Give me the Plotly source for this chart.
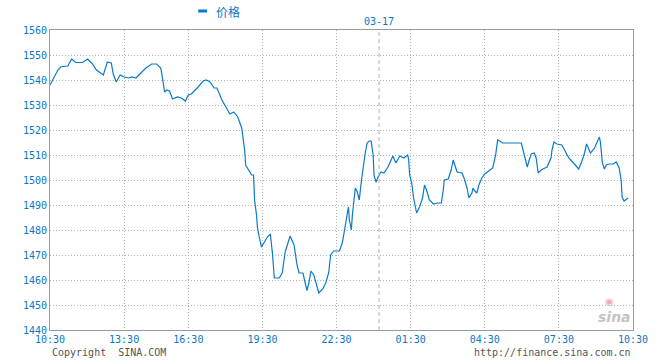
import plotly.graph_objects as go

# ---- data (sample index from session start, price) ----
t_idx = [0, 8, 11, 18, 22, 26, 33, 38, 43, 47, 54, 58, 62, 64, 67, 71, 75, 80, 83, 87,
         97, 103, 108, 112, 113, 116, 118, 121, 124, 129, 133, 137, 140, 143, 149, 155, 158, 162, 166, 169,
         174, 182, 186, 190, 194, 197, 198, 202, 204, 206, 207, 209, 210, 212, 214, 217, 220, 223, 225, 227,
         232, 235, 238, 243, 247, 250, 252, 256, 258, 260, 262, 264, 267, 269, 272, 276, 279, 282, 284, 287,
         293, 296, 298, 300, 302, 303, 305, 306, 307, 309, 311, 313, 315, 317, 319, 321, 323, 325, 327, 328,
         330, 332, 335, 338, 342, 347, 350, 354, 358, 362, 363, 364, 366, 368, 371, 374, 377, 379, 381, 384,
         388, 392, 396, 398, 399, 403, 406, 408, 410, 412, 417, 419, 422, 424, 427, 428, 430, 432, 434, 437,
         440, 444, 448, 451, 453, 455, 458, 477, 480, 483, 485, 487, 490, 492, 494, 497, 501, 503, 507, 508,
         510, 513, 518, 522, 525, 529, 533, 535, 538, 541, 543, 545, 547, 551, 554, 556, 557, 559, 561, 563,
         566, 570, 573, 576, 578, 579, 581, 583, 585]
price = [1538, 1544, 1545.3, 1545.6, 1548.4, 1547, 1547, 1548.4, 1546.4, 1544, 1542, 1547.2, 1546.8, 1542.4, 1539.2, 1542, 1541.2, 1540.8, 1541.2, 1540.8,
         1544.8, 1546.4, 1546.4, 1544.8, 1542.8, 1535.2, 1536, 1535.6, 1532.4, 1533.2, 1532.8, 1531.6, 1534, 1534.4, 1536.8, 1539.6, 1540, 1539.2, 1536.8, 1536.8,
         1532, 1526.4, 1527.2, 1525.2, 1520.8, 1512, 1506, 1503.2, 1502, 1502, 1492, 1486, 1480.8, 1476.8, 1473.2, 1475.2, 1477.2, 1478.4, 1471.2, 1460.8,
         1460.8, 1462.8, 1471.2, 1477.6, 1474, 1466, 1462.8, 1462.8, 1459.2, 1455.8, 1458.8, 1463.6, 1462, 1458.8, 1454.8, 1456.4, 1458.8, 1462.8, 1470, 1471.6,
         1471.6, 1475.2, 1480, 1484.8, 1489.2, 1484, 1480, 1486, 1490, 1496.8, 1495.2, 1492, 1499.2, 1506, 1510.8, 1514.8, 1515.6, 1515.6, 1510, 1501.6,
         1499.2, 1501.2, 1503.2, 1502.8, 1505.2, 1509.6, 1506.8, 1509.6, 1508.8, 1510, 1508, 1502, 1498.8, 1492.8, 1486.8, 1489.2, 1492.8, 1498, 1496, 1492,
         1490.4, 1490.8, 1490.8, 1496, 1500, 1500.4, 1504, 1508, 1506, 1503.2, 1502.8, 1500.8, 1496.8, 1492.8, 1494.8, 1496.8, 1495.6, 1494.8, 1498, 1500.8,
         1502.4, 1503.6, 1504.8, 1510, 1516, 1515.6, 1514.8, 1514.8, 1510, 1505.2, 1508, 1510.4, 1510.8, 1508.8, 1502.8, 1504, 1504.8, 1505.2, 1508.8, 1512,
         1515.2, 1514.4, 1514, 1511.2, 1508.8, 1507.2, 1505.2, 1504.4, 1507.2, 1510.8, 1514.4, 1512.8, 1510.8, 1512.8, 1515.6, 1517.2, 1515.2, 1506.8, 1504.4, 1506,
         1506.4, 1506.4, 1507.2, 1504.8, 1500, 1493.2, 1491.6, 1492.4, 1492.8]

tick_idx = [0, 75, 140, 215, 290, 365, 440, 515, 590]
tick_text = ["10:30", "13:30", "16:30", "19:30", "22:30", "01:30", "04:30", "07:30", "10:30"]
day_break_idx = 333
day_label = "03-17"
series_name = "价格"
y_ticks = list(range(1440, 1561, 10))

BLUE = "#0a7acb"
TXT = "#0a78c8"
GRID = "#b4b4b4"
AXIS = "#9a9a9a"
MONO = "DejaVu Sans Mono"

fig = go.Figure()
fig.add_trace(go.Scatter(x=t_idx, y=price, mode="lines", name=series_name,
                         line=dict(color=BLUE, width=1.2), showlegend=False,
                         hoverinfo="skip"))

fig.update_layout(
    width=660, height=360,
    margin=dict(l=50, r=20, t=30, b=30),
    paper_bgcolor="white", plot_bgcolor="white",
    font=dict(family=MONO, size=10, color=TXT),
    xaxis=dict(range=[0, 590], tickvals=tick_idx, ticktext=tick_text,
               showgrid=True, gridcolor=GRID, griddash="1px,2px", gridwidth=1,
               showline=True, mirror=True, linecolor=AXIS, linewidth=1,
               ticks="", zeroline=False, tickfont=dict(family=MONO, size=10, color=TXT)),
    yaxis=dict(range=[1440, 1560], tickvals=y_ticks,
               showgrid=True, gridcolor=GRID, griddash="1px,2px", gridwidth=1,
               showline=True, mirror=True, linecolor=AXIS, linewidth=1,
               ticks="", zeroline=False, tickfont=dict(family=MONO, size=10, color=TXT)),
)

# day divider
fig.add_shape(type="line", xref="x", yref="paper", x0=day_break_idx, x1=day_break_idx,
              y0=0, y1=1, line=dict(color="#b0b0b0", width=1, dash="4px,3px"))
fig.add_annotation(xref="x", yref="paper", x=day_break_idx, y=1.027, text=day_label,
                   showarrow=False, font=dict(family=MONO, size=10, color=TXT),
                   xanchor="center", yanchor="middle")

# legend (bar + label)
fig.add_shape(type="rect", xref="paper", yref="paper",
              x0=(200 - 50) / 590, x1=(209 - 50) / 590, y0=(330 - 12.5) / 300, y1=(330 - 9.5) / 300,
              line=dict(width=0), fillcolor=BLUE)
fig.add_annotation(xref="paper", yref="paper", x=(216 - 50) / 590, y=(330 - 12) / 300,
                   text=series_name, showarrow=False, xanchor="left", yanchor="middle",
                   font=dict(family="Noto Sans CJK SC", size=12, color=TXT))

# footer
fig.add_annotation(xref="paper", yref="paper", x=0, y=(330 - 352) / 300,
                   text="Copyright  SINA.COM", showarrow=False, xanchor="left", yanchor="middle",
                   font=dict(family=MONO, size=10, color="#555555"))
fig.add_annotation(xref="paper", yref="paper", x=1, y=(330 - 352) / 300,
                   text="http://finance.sina.com.cn", showarrow=False, xanchor="right", yanchor="middle",
                   font=dict(family=MONO, size=10, color="#555555"))

# watermark
fig.add_annotation(xref="paper", yref="paper", x=(616 - 50) / 590, y=(330 - 301) / 300,
                   text="◉", showarrow=False, xanchor="center", yanchor="middle",
                   font=dict(family="DejaVu Sans", size=10, color="#f3aaaa"))
fig.add_annotation(xref="paper", yref="paper", x=(621 - 50) / 590, y=(330 - 317) / 300,
                   text="<b><i>sina</i></b>", showarrow=False, xanchor="center", yanchor="middle",
                   font=dict(family="DejaVu Sans", size=14, color="#c4c4c4"))

fig.write_html("out.html", config={"displayModeBar": False},
               post_script="document.body.style.margin='0';document.body.style.overflow='hidden';")
